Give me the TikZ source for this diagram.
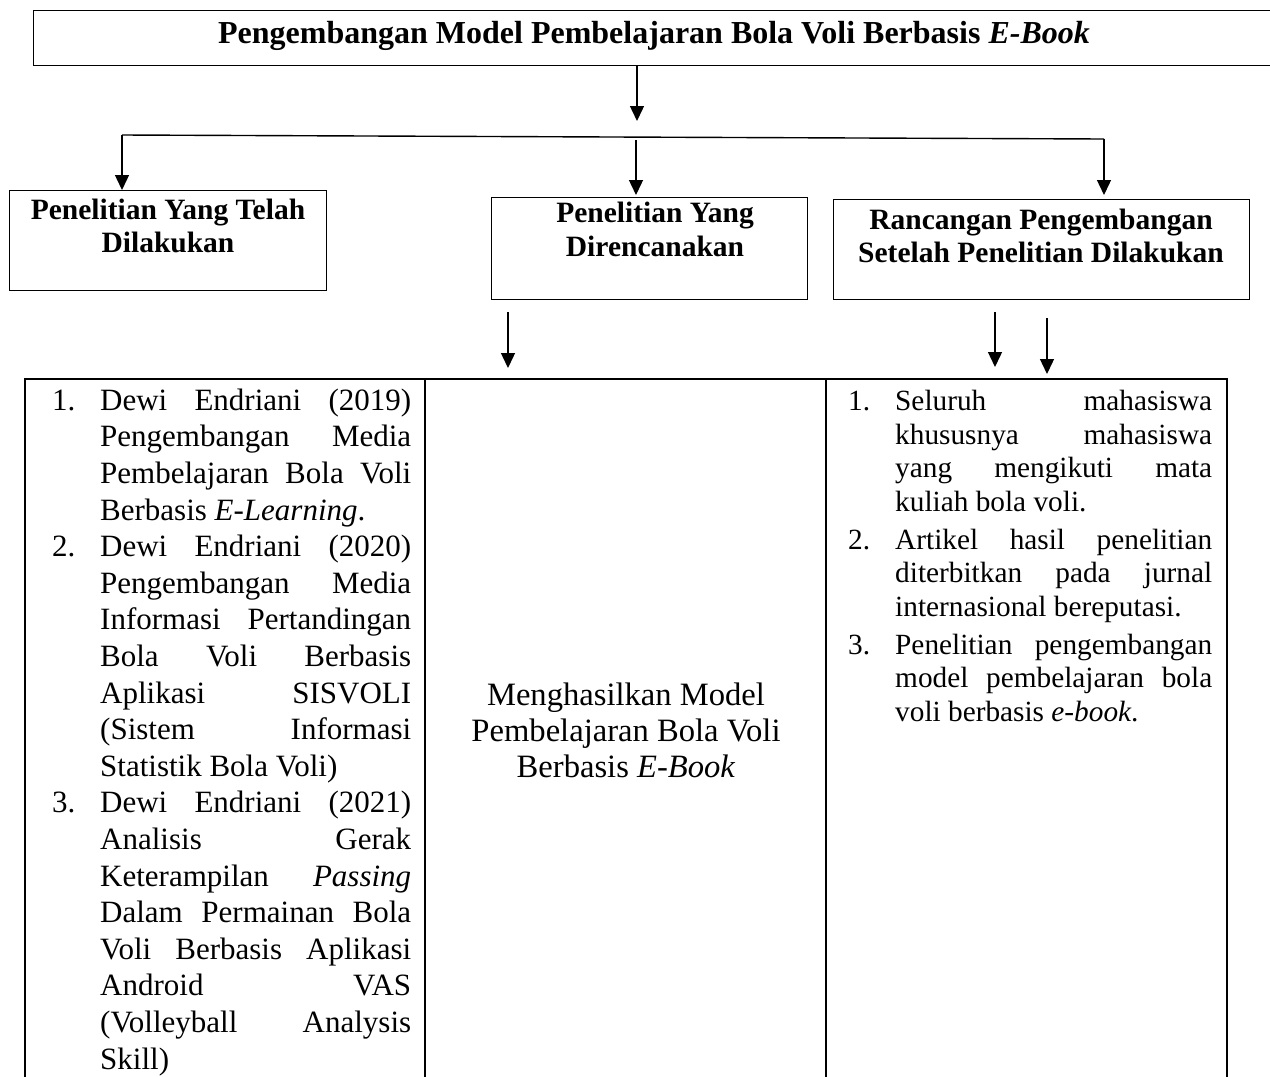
\documentclass[tikz,border=0pt]{standalone}
\usepackage{fontspec}
\setmainfont{Liberation Serif}
\usetikzlibrary{arrows.meta}
\newcommand\itmA[2]{\makebox[48pt][l]{#1}\makebox[311pt][s]{#2}}
\newcommand\jlA[1]{\hspace*{48pt}\makebox[311pt][s]{#1}}
\newcommand\llA[1]{\hspace*{48pt}#1}
\newcommand\itmB[2]{\makebox[47pt][l]{#1}\makebox[317pt][s]{#2}}
\newcommand\jlB[1]{\hspace*{47pt}\makebox[317pt][s]{#1}}
\newcommand\llB[1]{\hspace*{47pt}#1}
\begin{document}
\begin{tikzpicture}[x=1pt,y=-1pt,
  box/.style={draw=black, line width=1.4pt, inner sep=0pt, anchor=north west},
  arr/.style={line width=1.4pt, -{Triangle[width=14pt,length=15pt]}},
  hdr/.style={font=\fontsize{29.5}{33.5}\selectfont\bfseries, align=center, inner sep=0pt, anchor=north},
  tbl/.style={line width=1.4pt},
  ]
\useasboundingbox (0,0) rectangle (1270,1077);
\fill[white] (0,0) rectangle (1270,1077);
\clip (0,0) rectangle (1270,1077);

% boxes
\node[box, minimum width=1257pt, minimum height=55pt] (titlebox) at (33,10) {};
\node[box, minimum width=317pt, minimum height=100pt] (box1) at (9,190) {};
\node[box, minimum width=316pt, minimum height=102pt] (box2) at (491,197) {};
\node[box, minimum width=416pt, minimum height=100pt] (box3) at (833,199) {};

% texts
\node[font=\fontsize{32}{36}\selectfont\bfseries, anchor=base, inner sep=0pt] (title) at (654,43)
  {Pengembangan Model Pembelajaran Bola Voli Berbasis \textit{E-Book}};
\node[hdr] (t1) at (168,195) {\rule{0pt}{24pt}Penelitian Yang Telah\\Dilakukan};
\node[hdr] (t2) at (655,198.5) {\rule{0pt}{24pt}Penelitian Yang\\Direncanakan};
\node[hdr] (t3) at (1041,205) {\rule{0pt}{24pt}Rancangan Pengembangan\\Setelah Penelitian Dilakukan};

% connectors
\coordinate (a1e) at (637,121);
\coordinate (bl) at (122,135);
\coordinate (br) at (1104,139);
\coordinate (bre) at (1104,195);
\coordinate (m1s) at (636,140);
\coordinate (m1e) at (636,195);
\coordinate (d1s) at (508,312);
\coordinate (d1e) at (508,368);
\coordinate (d2s) at (995,312);
\coordinate (d2e) at (995,367);
\coordinate (d3s) at (1047,318);
\coordinate (d3e) at (1047,374);
\draw[arr] (titlebox.south -| a1e) -- (a1e);
\draw[line width=1.4pt] (bl) -- (br);
\draw[arr] (bl) -- (bl |- box1.north);
\draw[arr] (br) -- (bre);
\draw[arr] (m1s) -- (m1e);
\draw[arr] (d1s) -- (d1e);
\draw[arr] (d2s) -- (d2e);
\draw[arr] (d3s) -- (d3e);

% table
\draw[tbl] (25,1090) -- (25,379) -- (1227,379) -- (1227,1090);
\draw[tbl] (425,379) -- (425,1090);
\draw[tbl] (826,379) -- (826,1090);

\node[font=\fontsize{31}{36.6}\selectfont, align=left, anchor=north west, inner sep=0pt] (col1) at (52,384) {%
\rule{0pt}{26pt}\itmA{1.}{Dewi Endriani (2019)}\\
\jlA{Pengembangan Media}\\
\jlA{Pembelajaran Bola Voli}\\
\llA{Berbasis \textit{E-Learning}.}\\
\itmA{2.}{Dewi Endriani (2020)}\\
\jlA{Pengembangan Media}\\
\jlA{Informasi Pertandingan}\\
\jlA{Bola Voli Berbasis}\\
\jlA{Aplikasi SISVOLI}\\
\jlA{(Sistem Informasi}\\
\llA{Statistik Bola Voli)}\\
\itmA{3.}{Dewi Endriani (2021)}\\
\jlA{Analisis Gerak}\\
\jlA{Keterampilan \textit{Passing}}\\
\jlA{Dalam Permainan Bola}\\
\jlA{Voli Berbasis Aplikasi}\\
\jlA{Android VAS}\\
\jlA{(Volleyball Analysis}\\
\llA{Skill)}};

\node[font=\fontsize{32.6}{36}\selectfont, align=center, anchor=north, inner sep=0pt] (mid) at (626,679)
  {\rule{0pt}{26pt}Menghasilkan Model\\Pembelajaran Bola Voli\\Berbasis \textit{E-Book}};

\node[font=\fontsize{29.3}{33.5}\selectfont, align=left, anchor=north west, inner sep=0pt] (col3) at (848,386.5) {%
\rule{0pt}{24pt}\itmB{1.}{Seluruh mahasiswa}\\
\jlB{khususnya mahasiswa}\\
\jlB{yang mengikuti mata}\\
\llB{kuliah bola voli.}\\[4.5pt]
\itmB{2.}{Artikel hasil penelitian}\\
\jlB{diterbitkan pada jurnal}\\
\llB{internasional bereputasi.}\\[4.5pt]
\itmB{3.}{Penelitian pengembangan}\\
\jlB{model pembelajaran bola}\\
\llB{voli berbasis \textit{e-book}.}};
\end{tikzpicture}
\end{document}
